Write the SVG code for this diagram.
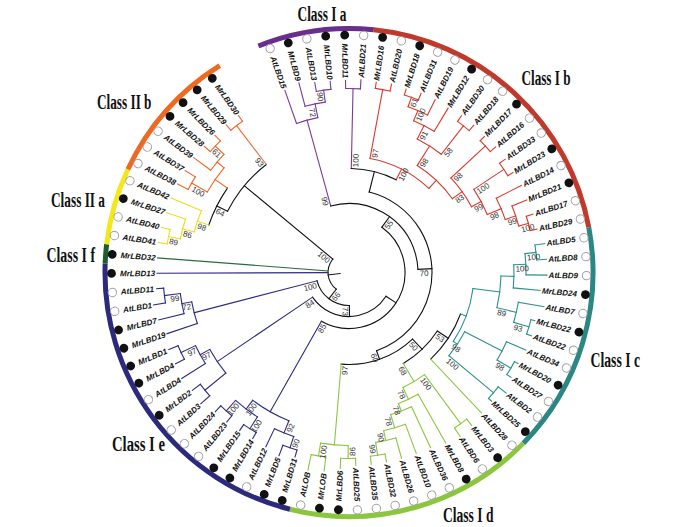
<svg xmlns="http://www.w3.org/2000/svg" width="700" height="527" viewBox="0 0 700 527">
<style>
.c line,.c circle{fill:none;stroke-width:1.1;stroke-linecap:square}
.k{stroke:#111}.p{stroke:#7b3a96}.r{stroke:#d8392e}.t{stroke:#2a9090}.g{stroke:#8cc63f}.n{stroke:#2e2b82}.dg{stroke:#2a6b3a}.y{stroke:#ece01c}.o{stroke:#f2672a}
.ring circle{fill:none;stroke-width:5}
.lf text{font-family:"Liberation Sans",Arial,sans-serif;font-size:8px;font-weight:bold;font-style:italic;fill:#111}
.R{text-anchor:end}
.f{fill:#111}
.e{fill:#fff;stroke:#a0a0a0;stroke-width:1}
.bs text{font-family:"Liberation Sans",Arial,sans-serif;font-size:8px;fill:#333}
.bs .E{text-anchor:end}
.cl text{font-family:"Liberation Serif","Times New Roman",serif;font-weight:bold;font-size:20px;fill:#111}
</style>
<rect width="700" height="527" fill="#fff"/>
<g id="ring" class="ring" transform="translate(349 272.5)">
<circle r="244" pathLength="360" stroke-dasharray="27.64 400" transform="rotate(-111.8)" stroke="#6b2d8c"/>
<circle r="244" pathLength="360" stroke-dasharray="73.46 400" transform="rotate(-84.16)" stroke="#c0392b"/>
<circle r="244" pathLength="360" stroke-dasharray="55.07 400" transform="rotate(-10.7)" stroke="#2a8784"/>
<circle r="244" pathLength="360" stroke-dasharray="59.63 400" transform="rotate(44.37)" stroke="#8cc63f"/>
<circle r="244" pathLength="360" stroke-dasharray="78.07 400" transform="rotate(104)" stroke="#2d2a7e"/>
<circle r="244" pathLength="360" stroke-dasharray="4.59 400" transform="rotate(182.07)" stroke="#1f5c2e"/>
<circle r="244" pathLength="360" stroke-dasharray="18.34 400" transform="rotate(186.66)" stroke="#f3e819"/>
<circle r="244" pathLength="360" stroke-dasharray="33 400" transform="rotate(205)" stroke="#ee6a23"/>
</g>
<g id="connectors" class="c" transform="translate(349 272.5)">
<line class="p" x1="158" x2="193" transform="rotate(-109.4)"/>
<line class="p" x1="172" x2="196" transform="rotate(-104.81)"/>
<line class="p" x1="184" x2="193" transform="rotate(-100.22)"/>
<line class="p" x1="184" x2="192" transform="rotate(-95.63)"/>
<line class="p" x1="184" x2="192" transform="rotate(-91.04)"/>
<line class="p" x1="184" x2="193" transform="rotate(-86.45)"/>
<circle class="p" r="184" pathLength="360" stroke-dasharray="4.59 400" transform="rotate(-100.22)"/>
<line class="p" x1="172" x2="184" transform="rotate(-97.925)"/>
<circle class="p" r="172" pathLength="360" stroke-dasharray="6.885 400" transform="rotate(-104.81)"/>
<line class="p" x1="158" x2="172" transform="rotate(-101.37)"/>
<circle class="p" r="158" pathLength="360" stroke-dasharray="8.03 400" transform="rotate(-109.4)"/>
<line class="p" x1="69" x2="158" transform="rotate(-105.385)"/>
<circle class="p" r="184" pathLength="360" stroke-dasharray="4.59 400" transform="rotate(-91.04)"/>
<line class="p" x1="104" x2="184" transform="rotate(-88.745)"/>
<line class="r" x1="186" x2="192" transform="rotate(-81.86)"/>
<line class="r" x1="186" x2="193" transform="rotate(-77.27)"/>
<line class="r" x1="186" x2="192" transform="rotate(-72.68)"/>
<line class="r" x1="186" x2="193" transform="rotate(-68.09)"/>
<line class="r" x1="176" x2="193" transform="rotate(-63.5)"/>
<line class="r" x1="165" x2="192" transform="rotate(-58.91)"/>
<line class="r" x1="186" x2="193" transform="rotate(-54.32)"/>
<line class="r" x1="186" x2="193" transform="rotate(-49.73)"/>
<line class="r" x1="186" x2="192" transform="rotate(-45.14)"/>
<line class="r" x1="186" x2="193" transform="rotate(-40.55)"/>
<line class="r" x1="186" x2="193" transform="rotate(-35.96)"/>
<line class="r" x1="186" x2="192" transform="rotate(-31.37)"/>
<line class="r" x1="165" x2="193" transform="rotate(-26.78)"/>
<line class="r" x1="176" x2="192" transform="rotate(-22.19)"/>
<line class="r" x1="186" x2="193" transform="rotate(-17.6)"/>
<line class="r" x1="186" x2="193" transform="rotate(-13.01)"/>
<circle class="r" r="186" pathLength="360" stroke-dasharray="4.59 400" transform="rotate(-81.86)"/>
<line class="r" x1="116" x2="186" transform="rotate(-79.565)"/>
<circle class="r" r="186" pathLength="360" stroke-dasharray="4.59 400" transform="rotate(-72.68)"/>
<line class="r" x1="176" x2="186" transform="rotate(-70.385)"/>
<circle class="r" r="176" pathLength="360" stroke-dasharray="6.885 400" transform="rotate(-70.385)"/>
<line class="r" x1="165" x2="176" transform="rotate(-66.94)"/>
<circle class="r" r="165" pathLength="360" stroke-dasharray="8.03 400" transform="rotate(-66.94)"/>
<line class="r" x1="150" x2="165" transform="rotate(-62.93)"/>
<circle class="r" r="186" pathLength="360" stroke-dasharray="4.59 400" transform="rotate(-54.32)"/>
<line class="r" x1="150" x2="186" transform="rotate(-52.025)"/>
<circle class="r" r="150" pathLength="360" stroke-dasharray="10.905 400" transform="rotate(-62.93)"/>
<line class="r" x1="127" x2="150" transform="rotate(-57.48)"/>
<circle class="r" r="186" pathLength="360" stroke-dasharray="4.59 400" transform="rotate(-45.14)"/>
<line class="r" x1="139" x2="186" transform="rotate(-42.845)"/>
<circle class="r" r="186" pathLength="360" stroke-dasharray="4.59 400" transform="rotate(-35.96)"/>
<line class="r" x1="150" x2="186" transform="rotate(-33.665)"/>
<circle class="r" r="186" pathLength="360" stroke-dasharray="4.59 400" transform="rotate(-17.6)"/>
<line class="r" x1="176" x2="186" transform="rotate(-15.305)"/>
<circle class="r" r="176" pathLength="360" stroke-dasharray="6.885 400" transform="rotate(-22.19)"/>
<line class="r" x1="165" x2="176" transform="rotate(-18.75)"/>
<circle class="r" r="165" pathLength="360" stroke-dasharray="8.03 400" transform="rotate(-26.78)"/>
<line class="r" x1="150" x2="165" transform="rotate(-22.765)"/>
<circle class="r" r="150" pathLength="360" stroke-dasharray="10.9 400" transform="rotate(-33.665)"/>
<line class="r" x1="139" x2="150" transform="rotate(-28.215)"/>
<circle class="r" r="139" pathLength="360" stroke-dasharray="14.63 400" transform="rotate(-42.845)"/>
<line class="r" x1="127" x2="139" transform="rotate(-35.53)"/>
<circle class="r" r="127" pathLength="360" stroke-dasharray="21.975 400" transform="rotate(-57.48)"/>
<line class="r" x1="116" x2="127" transform="rotate(-46.505)"/>
<circle class="r" r="116" pathLength="360" stroke-dasharray="33.06 400" transform="rotate(-79.565)"/>
<line class="r" x1="104" x2="116" transform="rotate(-63.035)"/>
<circle class="k" r="104" pathLength="360" stroke-dasharray="25.71 400" transform="rotate(-88.745)"/>
<line class="k" x1="83" x2="104" transform="rotate(-75.89)"/>
<circle class="k" r="83" pathLength="360" stroke-dasharray="146.5 400" transform="rotate(-75.89)"/>
<line class="k" x1="69" x2="83" transform="rotate(-2.64)"/>
<circle class="k" r="69" pathLength="360" stroke-dasharray="102.745 400" transform="rotate(-105.385)"/>
<line class="k" x1="56" x2="69" transform="rotate(-54.01)"/>
<circle class="k" r="56" pathLength="360" stroke-dasharray="173.54 400" transform="rotate(-54.01)"/>
<line class="k" x1="44" x2="56" transform="rotate(32.76)"/>
<circle class="k" r="44" pathLength="360" stroke-dasharray="113.16 400" transform="rotate(32.76)"/>
<line class="k" x1="33" x2="44" transform="rotate(89.34)"/>
<circle class="k" r="33" pathLength="360" stroke-dasharray="76.09 400" transform="rotate(89.34)"/>
<line class="k" x1="21" x2="33" transform="rotate(127.385)"/>
<circle class="k" r="21" pathLength="360" stroke-dasharray="92.26 400" transform="rotate(127.385)"/>
<line class="k" x1="9" x2="21" transform="rotate(173.5)"/>
<circle class="k" r="92" pathLength="360" stroke-dasharray="48.485 400" transform="rotate(46.37)"/>
<line class="k" x1="83" x2="92" transform="rotate(70.61)"/>
<circle class="k" r="106" pathLength="360" stroke-dasharray="25.675 400" transform="rotate(33.535)"/>
<line class="k" x1="92" x2="106" transform="rotate(46.37)"/>
<circle class="k" r="119" pathLength="360" stroke-dasharray="26.25 400" transform="rotate(20.41)"/>
<line class="k" x1="106" x2="119" transform="rotate(33.535)"/>
<circle class="k" r="136" pathLength="360" stroke-dasharray="25.82 400" transform="rotate(206.735)"/>
<line class="k" x1="21" x2="136" transform="rotate(219.645)"/>
<circle class="k" r="148" pathLength="360" stroke-dasharray="16.07 400" transform="rotate(198.7)"/>
<line class="k" x1="136" x2="148" transform="rotate(206.735)"/>
<circle class="t" r="125" pathLength="360" stroke-dasharray="26.108 400" transform="rotate(7.356)"/>
<line class="t" x1="119" x2="125" transform="rotate(20.41)"/>
<circle class="t" r="130" pathLength="360" stroke-dasharray="12.6225 400" transform="rotate(27.1525)"/>
<line class="t" x1="125" x2="130" transform="rotate(33.464)"/>
<circle class="t" r="152" pathLength="360" stroke-dasharray="12.044 400" transform="rotate(1.334)"/>
<line class="t" x1="125" x2="152" transform="rotate(7.356)"/>
<circle class="t" r="165" pathLength="360" stroke-dasharray="8.03 400" transform="rotate(-2.6825)"/>
<line class="t" x1="152" x2="165" transform="rotate(1.334)"/>
<circle class="t" r="177" pathLength="360" stroke-dasharray="6.885 400" transform="rotate(-6.125)"/>
<line class="t" x1="165" x2="177" transform="rotate(-2.6825)"/>
<circle class="t" r="188" pathLength="360" stroke-dasharray="4.59 400" transform="rotate(-8.42)"/>
<line class="t" x1="177" x2="188" transform="rotate(-6.125)"/>
<circle class="t" r="172" pathLength="360" stroke-dasharray="6.885 400" transform="rotate(9.94)"/>
<line class="t" x1="152" x2="172" transform="rotate(13.378)"/>
<circle class="t" r="188" pathLength="360" stroke-dasharray="4.59 400" transform="rotate(14.53)"/>
<line class="t" x1="172" x2="188" transform="rotate(16.825)"/>
<circle class="t" r="172" pathLength="360" stroke-dasharray="6.885 400" transform="rotate(23.71)"/>
<line class="t" x1="130" x2="172" transform="rotate(27.1525)"/>
<circle class="t" r="188" pathLength="360" stroke-dasharray="4.59 400" transform="rotate(28.3)"/>
<line class="t" x1="172" x2="188" transform="rotate(30.595)"/>
<circle class="t" r="188" pathLength="360" stroke-dasharray="4.59 400" transform="rotate(37.48)"/>
<line class="t" x1="130" x2="188" transform="rotate(39.775)"/>
<line class="t" x1="188" x2="198" transform="rotate(-8.42)"/>
<line class="t" x1="188" x2="198" transform="rotate(-3.83)"/>
<line class="t" x1="177" x2="198" transform="rotate(0.76)"/>
<line class="t" x1="165" x2="192" transform="rotate(5.35)"/>
<line class="t" x1="172" x2="198" transform="rotate(9.94)"/>
<line class="t" x1="188" x2="192" transform="rotate(14.53)"/>
<line class="t" x1="188" x2="193" transform="rotate(19.12)"/>
<line class="t" x1="172" x2="193" transform="rotate(23.71)"/>
<line class="t" x1="188" x2="192" transform="rotate(28.3)"/>
<line class="t" x1="188" x2="193" transform="rotate(32.89)"/>
<line class="t" x1="188" x2="198" transform="rotate(37.48)"/>
<line class="t" x1="188" x2="192" transform="rotate(42.07)"/>
<line class="g" x1="119" x2="193" transform="rotate(46.66)"/>
<line class="g" x1="188" x2="196" transform="rotate(51.25)"/>
<line class="g" x1="188" x2="198" transform="rotate(55.84)"/>
<line class="g" x1="140" x2="196" transform="rotate(60.43)"/>
<line class="g" x1="148" x2="193" transform="rotate(65.02)"/>
<line class="g" x1="162" x2="193" transform="rotate(69.61)"/>
<line class="g" x1="172" x2="193" transform="rotate(74.2)"/>
<line class="g" x1="185" x2="193" transform="rotate(78.79)"/>
<line class="g" x1="185" x2="193" transform="rotate(83.38)"/>
<line class="g" x1="186" x2="193" transform="rotate(87.97)"/>
<line class="g" x1="186" x2="196" transform="rotate(92.56)"/>
<line class="g" x1="186" x2="200" transform="rotate(97.15)"/>
<line class="g" x1="186" x2="202" transform="rotate(101.74)"/>
<circle class="g" r="127" pathLength="360" stroke-dasharray="11.335 400" transform="rotate(53.545)"/>
<line class="g" x1="106" x2="127" transform="rotate(59.21)"/>
<circle class="g" r="188" pathLength="360" stroke-dasharray="4.59 400" transform="rotate(51.25)"/>
<line class="g" x1="127" x2="188" transform="rotate(53.545)"/>
<circle class="g" r="140" pathLength="360" stroke-dasharray="8.895 400" transform="rotate(60.43)"/>
<line class="g" x1="127" x2="140" transform="rotate(64.88)"/>
<circle class="g" r="148" pathLength="360" stroke-dasharray="8.605 400" transform="rotate(65.02)"/>
<line class="g" x1="140" x2="148" transform="rotate(69.325)"/>
<circle class="g" r="162" pathLength="360" stroke-dasharray="8.03 400" transform="rotate(69.61)"/>
<line class="g" x1="148" x2="162" transform="rotate(73.63)"/>
<circle class="g" r="172" pathLength="360" stroke-dasharray="6.885 400" transform="rotate(74.2)"/>
<line class="g" x1="162" x2="172" transform="rotate(77.64)"/>
<circle class="g" r="185" pathLength="360" stroke-dasharray="4.59 400" transform="rotate(78.79)"/>
<line class="g" x1="172" x2="185" transform="rotate(81.085)"/>
<circle class="g" r="173" pathLength="360" stroke-dasharray="9.18 400" transform="rotate(90.265)"/>
<line class="g" x1="92" x2="173" transform="rotate(94.855)"/>
<circle class="g" r="186" pathLength="360" stroke-dasharray="4.59 400" transform="rotate(87.97)"/>
<line class="g" x1="173" x2="186" transform="rotate(90.265)"/>
<circle class="g" r="186" pathLength="360" stroke-dasharray="4.59 400" transform="rotate(97.15)"/>
<line class="g" x1="173" x2="186" transform="rotate(99.445)"/>
<line class="n" x1="185" x2="192" transform="rotate(106.33)"/>
<line class="n" x1="185" x2="196" transform="rotate(110.92)"/>
<line class="n" x1="173" x2="193" transform="rotate(115.51)"/>
<line class="n" x1="185" x2="192" transform="rotate(120.1)"/>
<line class="n" x1="185" x2="192" transform="rotate(124.69)"/>
<line class="n" x1="185" x2="193" transform="rotate(129.28)"/>
<line class="n" x1="185" x2="193" transform="rotate(133.87)"/>
<line class="n" x1="186" x2="198" transform="rotate(138.46)"/>
<line class="n" x1="186" x2="196" transform="rotate(143.05)"/>
<line class="n" x1="170" x2="198" transform="rotate(147.64)"/>
<line class="n" x1="186" x2="196" transform="rotate(152.23)"/>
<line class="n" x1="186" x2="196" transform="rotate(156.82)"/>
<line class="n" x1="160" x2="192" transform="rotate(161.41)"/>
<line class="n" x1="170" x2="196" transform="rotate(166)"/>
<line class="n" x1="186" x2="198" transform="rotate(170.59)"/>
<line class="n" x1="186" x2="193" transform="rotate(175.18)"/>
<line class="n" x1="21" x2="192" transform="rotate(179.77)"/>
<circle class="n" r="160" pathLength="360" stroke-dasharray="14.915 400" transform="rotate(112.07)"/>
<line class="n" x1="56" x2="160" transform="rotate(119.53)"/>
<circle class="n" r="173" pathLength="360" stroke-dasharray="6.885 400" transform="rotate(108.625)"/>
<line class="n" x1="160" x2="173" transform="rotate(112.07)"/>
<circle class="n" r="185" pathLength="360" stroke-dasharray="4.59 400" transform="rotate(106.33)"/>
<line class="n" x1="173" x2="185" transform="rotate(108.625)"/>
<circle class="n" r="171" pathLength="360" stroke-dasharray="9.18 400" transform="rotate(122.395)"/>
<line class="n" x1="160" x2="171" transform="rotate(126.985)"/>
<circle class="n" r="185" pathLength="360" stroke-dasharray="4.59 400" transform="rotate(120.1)"/>
<line class="n" x1="171" x2="185" transform="rotate(122.395)"/>
<circle class="n" r="185" pathLength="360" stroke-dasharray="4.59 400" transform="rotate(129.28)"/>
<line class="n" x1="171" x2="185" transform="rotate(131.575)"/>
<circle class="n" r="159" pathLength="360" stroke-dasharray="10.325 400" transform="rotate(140.755)"/>
<line class="n" x1="44" x2="159" transform="rotate(145.92)"/>
<circle class="n" r="186" pathLength="360" stroke-dasharray="4.59 400" transform="rotate(138.46)"/>
<line class="n" x1="159" x2="186" transform="rotate(140.755)"/>
<circle class="n" r="170" pathLength="360" stroke-dasharray="6.885 400" transform="rotate(147.64)"/>
<line class="n" x1="159" x2="170" transform="rotate(151.08)"/>
<circle class="n" r="186" pathLength="360" stroke-dasharray="4.59 400" transform="rotate(152.23)"/>
<line class="n" x1="170" x2="186" transform="rotate(154.525)"/>
<circle class="n" r="160" pathLength="360" stroke-dasharray="8.03 400" transform="rotate(161.41)"/>
<line class="n" x1="33" x2="160" transform="rotate(165.43)"/>
<circle class="n" r="170" pathLength="360" stroke-dasharray="6.885 400" transform="rotate(166)"/>
<line class="n" x1="160" x2="170" transform="rotate(169.44)"/>
<circle class="n" r="186" pathLength="360" stroke-dasharray="4.59 400" transform="rotate(170.59)"/>
<line class="n" x1="170" x2="186" transform="rotate(172.885)"/>
<line class="dg" x1="21" x2="192" transform="rotate(184.36)"/>
<line class="y" x1="184" x2="193" transform="rotate(188.95)"/>
<line class="y" x1="184" x2="193" transform="rotate(193.54)"/>
<line class="y" x1="172" x2="192" transform="rotate(198.13)"/>
<line class="y" x1="160" x2="193" transform="rotate(202.72)"/>
<circle class="y" r="160" pathLength="360" stroke-dasharray="8.0325 400" transform="rotate(194.6875)"/>
<line class="y" x1="148" x2="160" transform="rotate(198.7)"/>
<circle class="y" r="172" pathLength="360" stroke-dasharray="6.885 400" transform="rotate(191.245)"/>
<line class="y" x1="160" x2="172" transform="rotate(194.6875)"/>
<circle class="y" r="184" pathLength="360" stroke-dasharray="4.59 400" transform="rotate(188.95)"/>
<line class="y" x1="172" x2="184" transform="rotate(191.245)"/>
<line class="o" x1="181" x2="193" transform="rotate(207.31)"/>
<line class="o" x1="181" x2="193" transform="rotate(211.9)"/>
<line class="o" x1="172" x2="193" transform="rotate(216.49)"/>
<line class="o" x1="184" x2="192" transform="rotate(221.08)"/>
<line class="o" x1="184" x2="192" transform="rotate(225.67)"/>
<line class="o" x1="185" x2="192" transform="rotate(230.26)"/>
<line class="o" x1="185" x2="192" transform="rotate(234.85)"/>
<circle class="o" r="163" pathLength="360" stroke-dasharray="10.325 400" transform="rotate(209.605)"/>
<line class="o" x1="148" x2="163" transform="rotate(214.77)"/>
<circle class="o" r="181" pathLength="360" stroke-dasharray="4.59 400" transform="rotate(207.31)"/>
<line class="o" x1="163" x2="181" transform="rotate(209.605)"/>
<circle class="o" r="172" pathLength="360" stroke-dasharray="6.885 400" transform="rotate(216.49)"/>
<line class="o" x1="163" x2="172" transform="rotate(219.93)"/>
<circle class="o" r="184" pathLength="360" stroke-dasharray="4.59 400" transform="rotate(221.08)"/>
<line class="o" x1="172" x2="184" transform="rotate(223.375)"/>
<circle class="o" r="185" pathLength="360" stroke-dasharray="4.59 400" transform="rotate(230.26)"/>
<line class="o" x1="136" x2="185" transform="rotate(232.555)"/>
</g>
<g id="bootstrap" class="bs" transform="translate(349 272.5)">
<text class="E" transform="rotate(82.075)" x="-173.5" y="7">90</text>
<text class="E" transform="rotate(78.63)" x="-159.5" y="7">72</text>
<text class="E" transform="rotate(74.615)" x="-70.5" y="7">99</text>
<text transform="rotate(-88.745)" x="105.5" y="7">100</text>
<text transform="rotate(-79.565)" x="117.5" y="7">97</text>
<text transform="rotate(-63.035)" x="105.5" y="7">100</text>
<text transform="rotate(-70.385)" x="177.5" y="7">61</text>
<text transform="rotate(-66.94)" x="166.5" y="7">100</text>
<text transform="rotate(-62.93)" x="151.5" y="7">91</text>
<text transform="rotate(-52.025)" x="151.5" y="7">58</text>
<text transform="rotate(-57.48)" x="128.5" y="7">98</text>
<text transform="rotate(-42.845)" x="140.5" y="7">98</text>
<text transform="rotate(-33.665)" x="151.5" y="7">100</text>
<text transform="rotate(-28.215)" x="140.5" y="7">99</text>
<text transform="rotate(-35.53)" x="128.5" y="7">83</text>
<text transform="rotate(-22.765)" x="151.5" y="7">98</text>
<text transform="rotate(-18.75)" x="166.5" y="7">99</text>
<text transform="rotate(-15.305)" x="177.5" y="7">100</text>
<text transform="rotate(-6.125)" x="178.5" y="7">100</text>
<text transform="rotate(-2.6825)" x="166.5" y="7">100</text>
<text transform="rotate(16.825)" x="173.5" y="7">93</text>
<text transform="rotate(13.378)" x="153.5" y="7">89</text>
<text transform="rotate(30.595)" x="173.5" y="7">98</text>
<text transform="rotate(39.775)" x="131.5" y="7">100</text>
<text transform="rotate(33.464)" x="126.5" y="7">98</text>
<text transform="rotate(33.535)" x="107.5" y="7">53</text>
<text transform="rotate(46.37)" x="93.5" y="7">50</text>
<text transform="rotate(70.61)" x="84.5" y="7">60</text>
<text transform="rotate(-2.64)" x="70.5" y="7">70</text>
<text transform="rotate(-54.01)" x="57.5" y="7">55</text>
<text transform="rotate(89.34)" x="34.5" y="7">73</text>
<text transform="rotate(59.21)" x="107.5" y="7">68</text>
<text transform="rotate(53.545)" x="128.5" y="7">100</text>
<text transform="rotate(64.88)" x="128.5" y="7">78</text>
<text transform="rotate(69.325)" x="141.5" y="7">78</text>
<text transform="rotate(73.63)" x="149.5" y="7">78</text>
<text transform="rotate(77.64)" x="163.5" y="7">90</text>
<text transform="rotate(81.085)" x="173.5" y="7">99</text>
<text class="E" transform="rotate(-85.145)" x="-93.5" y="7">97</text>
<text class="E" transform="rotate(-89.735)" x="-174.5" y="7">86</text>
<text class="E" transform="rotate(-80.555)" x="-174.5" y="7">100</text>
<text class="E" transform="rotate(-52.615)" x="-22.5" y="7">66</text>
<text class="E" transform="rotate(-14.57)" x="-34.5" y="7">100</text>
<text class="E" transform="rotate(-34.08)" x="-45.5" y="7">84</text>
<text class="E" transform="rotate(-60.47)" x="-57.5" y="7">85</text>
<text class="E" transform="rotate(-7.115)" x="-171.5" y="7">99</text>
<text class="E" transform="rotate(-10.56)" x="-161.5" y="7">72</text>
<text class="E" transform="rotate(-25.475)" x="-171.5" y="7">97</text>
<text class="E" transform="rotate(-28.92)" x="-160.5" y="7">97</text>
<text class="E" transform="rotate(-71.375)" x="-174.5" y="7">90</text>
<text class="E" transform="rotate(-67.93)" x="-161.5" y="7">92</text>
<text class="E" transform="rotate(-57.605)" x="-172.5" y="7">100</text>
<text class="E" transform="rotate(-48.425)" x="-172.5" y="7">100</text>
<text class="E" transform="rotate(-53.015)" x="-161.5" y="7">100</text>
<text class="E" transform="rotate(39.645)" x="-22.5" y="7">100</text>
<text class="E" transform="rotate(26.735)" x="-137.5" y="7">64</text>
<text class="E" transform="rotate(52.555)" x="-137.5" y="7">93</text>
<text class="E" transform="rotate(18.7)" x="-149.5" y="7">98</text>
<text class="E" transform="rotate(14.6875)" x="-161.5" y="7">86</text>
<text class="E" transform="rotate(11.245)" x="-173.5" y="7">89</text>
<text class="E" transform="rotate(29.605)" x="-164.5" y="7">100</text>
<text class="E" transform="rotate(43.375)" x="-173.5" y="7">61</text>
</g>
<g id="leaves" class="lf" transform="translate(349 272.5)">
<g id="AtLBD15" transform="rotate(70.6)"><circle class="e" cx="-237.5" r="4.2"/><text x="-229" y="2.8">AtLBD15</text></g>
<g id="MrLBD9" transform="rotate(75.19)"><circle class="f" cx="-237.5" r="4.4"/><text x="-229" y="2.8">MrLBD9</text></g>
<g id="AtLBD13" transform="rotate(79.78)"><circle class="e" cx="-237.5" r="4.2"/><text x="-229" y="2.8">AtLBD13</text></g>
<g id="MrLBD10" transform="rotate(84.37)"><circle class="f" cx="-237.5" r="4.4"/><text x="-229" y="2.8">MrLBD10</text></g>
<g id="MrLBD11" transform="rotate(88.96)"><circle class="f" cx="-237.5" r="4.4"/><text x="-229" y="2.8">MrLBD11</text></g>
<g id="AtLBD21" transform="rotate(-86.45)"><circle class="e" cx="237.5" r="4.2"/><text class="R" x="229" y="2.8">AtLBD21</text></g>
<g id="MrLBD16" transform="rotate(-81.86)"><circle class="f" cx="237.5" r="4.4"/><text class="R" x="229" y="2.8">MrLBD16</text></g>
<g id="AtLBD20" transform="rotate(-77.27)"><circle class="e" cx="237.5" r="4.2"/><text class="R" x="229" y="2.8">AtLBD20</text></g>
<g id="MrLBD18" transform="rotate(-72.68)"><circle class="f" cx="237.5" r="4.4"/><text class="R" x="229" y="2.8">MrLBD18</text></g>
<g id="AtLBD31" transform="rotate(-68.09)"><circle class="e" cx="237.5" r="4.2"/><text class="R" x="229" y="2.8">AtLBD31</text></g>
<g id="AtLBD19" transform="rotate(-63.5)"><circle class="e" cx="237.5" r="4.2"/><text class="R" x="229" y="2.8">AtLBD19</text></g>
<g id="MrLBD12" transform="rotate(-58.91)"><circle class="f" cx="237.5" r="4.4"/><text class="R" x="229" y="2.8">MrLBD12</text></g>
<g id="AtLBD30" transform="rotate(-54.32)"><circle class="e" cx="237.5" r="4.2"/><text class="R" x="229" y="2.8">AtLBD30</text></g>
<g id="AtLBD18" transform="rotate(-49.73)"><circle class="e" cx="237.5" r="4.2"/><text class="R" x="229" y="2.8">AtLBD18</text></g>
<g id="MrLBD17" transform="rotate(-45.14)"><circle class="f" cx="237.5" r="4.4"/><text class="R" x="229" y="2.8">MrLBD17</text></g>
<g id="AtLBD16" transform="rotate(-40.55)"><circle class="e" cx="237.5" r="4.2"/><text class="R" x="229" y="2.8">AtLBD16</text></g>
<g id="AtLBD33" transform="rotate(-35.96)"><circle class="e" cx="237.5" r="4.2"/><text class="R" x="229" y="2.8">AtLBD33</text></g>
<g id="MrLBD23" transform="rotate(-31.37)"><circle class="f" cx="237.5" r="4.4"/><text class="R" x="229" y="2.8">MrLBD23</text></g>
<g id="AtLBD14" transform="rotate(-26.78)"><circle class="e" cx="237.5" r="4.2"/><text class="R" x="229" y="2.8">AtLBD14</text></g>
<g id="MrLBD21" transform="rotate(-22.19)"><circle class="f" cx="237.5" r="4.4"/><text class="R" x="229" y="2.8">MrLBD21</text></g>
<g id="AtLBD17" transform="rotate(-17.6)"><circle class="e" cx="237.5" r="4.2"/><text class="R" x="229" y="2.8">AtLBD17</text></g>
<g id="AtLBD29" transform="rotate(-13.01)"><circle class="e" cx="237.5" r="4.2"/><text class="R" x="229" y="2.8">AtLBD29</text></g>
<g id="AtLBD5" transform="rotate(-8.42)"><circle class="e" cx="237.5" r="4.2"/><text class="R" x="229" y="2.8">AtLBD5</text></g>
<g id="AtLBD8" transform="rotate(-3.83)"><circle class="e" cx="237.5" r="4.2"/><text class="R" x="229" y="2.8">AtLBD8</text></g>
<g id="AtLBD9" transform="rotate(0.76)"><circle class="e" cx="237.5" r="4.2"/><text class="R" x="229" y="2.8">AtLBD9</text></g>
<g id="MrLBD24" transform="rotate(5.35)"><circle class="f" cx="237.5" r="4.4"/><text class="R" x="229" y="2.8">MrLBD24</text></g>
<g id="AtLBD7" transform="rotate(9.94)"><circle class="e" cx="237.5" r="4.2"/><text class="R" x="229" y="2.8">AtLBD7</text></g>
<g id="MrLBD22" transform="rotate(14.53)"><circle class="f" cx="237.5" r="4.4"/><text class="R" x="229" y="2.8">MrLBD22</text></g>
<g id="AtLBD22" transform="rotate(19.12)"><circle class="e" cx="237.5" r="4.2"/><text class="R" x="229" y="2.8">AtLBD22</text></g>
<g id="AtLBD34" transform="rotate(23.71)"><circle class="e" cx="237.5" r="4.2"/><text class="R" x="229" y="2.8">AtLBD34</text></g>
<g id="MrLBD20" transform="rotate(28.3)"><circle class="f" cx="237.5" r="4.4"/><text class="R" x="229" y="2.8">MrLBD20</text></g>
<g id="AtLBD27" transform="rotate(32.89)"><circle class="e" cx="237.5" r="4.2"/><text class="R" x="229" y="2.8">AtLBD27</text></g>
<g id="AtLBD2" transform="rotate(37.48)"><circle class="e" cx="237.5" r="4.2"/><text class="R" x="229" y="2.8">AtLBD2</text></g>
<g id="MrLBD25" transform="rotate(42.07)"><circle class="f" cx="237.5" r="4.4"/><text class="R" x="229" y="2.8">MrLBD25</text></g>
<g id="AtLBD28" transform="rotate(46.66)"><circle class="e" cx="237.5" r="4.2"/><text class="R" x="229" y="2.8">AtLBD28</text></g>
<g id="MrLBD3" transform="rotate(51.25)"><circle class="f" cx="237.5" r="4.4"/><text class="R" x="229" y="2.8">MrLBD3</text></g>
<g id="AtLBD6" transform="rotate(55.84)"><circle class="e" cx="237.5" r="4.2"/><text class="R" x="229" y="2.8">AtLBD6</text></g>
<g id="MrLBD8" transform="rotate(60.43)"><circle class="f" cx="237.5" r="4.4"/><text class="R" x="229" y="2.8">MrLBD8</text></g>
<g id="AtLBD36" transform="rotate(65.02)"><circle class="e" cx="237.5" r="4.2"/><text class="R" x="229" y="2.8">AtLBD36</text></g>
<g id="AtLBD10" transform="rotate(69.61)"><circle class="e" cx="237.5" r="4.2"/><text class="R" x="229" y="2.8">AtLBD10</text></g>
<g id="AtLBD26" transform="rotate(74.2)"><circle class="e" cx="237.5" r="4.2"/><text class="R" x="229" y="2.8">AtLBD26</text></g>
<g id="AtLBD32" transform="rotate(78.79)"><circle class="e" cx="237.5" r="4.2"/><text class="R" x="229" y="2.8">AtLBD32</text></g>
<g id="AtLBD35" transform="rotate(83.38)"><circle class="e" cx="237.5" r="4.2"/><text class="R" x="229" y="2.8">AtLBD35</text></g>
<g id="AtLBD25" transform="rotate(87.97)"><circle class="e" cx="237.5" r="4.2"/><text class="R" x="229" y="2.8">AtLBD25</text></g>
<g id="MrLBD6" transform="rotate(-87.44)"><circle class="f" cx="-237.5" r="4.4"/><text x="-229" y="2.8">MrLBD6</text></g>
<g id="MrLOB" transform="rotate(-82.85)"><circle class="f" cx="-237.5" r="4.4"/><text x="-229" y="2.8">MrLOB</text></g>
<g id="AtLOB" transform="rotate(-78.26)"><circle class="e" cx="-237.5" r="4.2"/><text x="-229" y="2.8">AtLOB</text></g>
<g id="MrLBD31" transform="rotate(-73.67)"><circle class="f" cx="-237.5" r="4.4"/><text x="-229" y="2.8">MrLBD31</text></g>
<g id="MrLBD5" transform="rotate(-69.08)"><circle class="f" cx="-237.5" r="4.4"/><text x="-229" y="2.8">MrLBD5</text></g>
<g id="AtLBD12" transform="rotate(-64.49)"><circle class="e" cx="-237.5" r="4.2"/><text x="-229" y="2.8">AtLBD12</text></g>
<g id="MrLBD14" transform="rotate(-59.9)"><circle class="f" cx="-237.5" r="4.4"/><text x="-229" y="2.8">MrLBD14</text></g>
<g id="MrLBD15" transform="rotate(-55.31)"><circle class="f" cx="-237.5" r="4.4"/><text x="-229" y="2.8">MrLBD15</text></g>
<g id="AtLBD23" transform="rotate(-50.72)"><circle class="e" cx="-237.5" r="4.2"/><text x="-229" y="2.8">AtLBD23</text></g>
<g id="AtLBD24" transform="rotate(-46.13)"><circle class="e" cx="-237.5" r="4.2"/><text x="-229" y="2.8">AtLBD24</text></g>
<g id="AtLBD3" transform="rotate(-41.54)"><circle class="e" cx="-237.5" r="4.2"/><text x="-229" y="2.8">AtLBD3</text></g>
<g id="MrLBD2" transform="rotate(-36.95)"><circle class="f" cx="-237.5" r="4.4"/><text x="-229" y="2.8">MrLBD2</text></g>
<g id="AtLBD4" transform="rotate(-32.36)"><circle class="e" cx="-237.5" r="4.2"/><text x="-229" y="2.8">AtLBD4</text></g>
<g id="MrLBD4" transform="rotate(-27.77)"><circle class="f" cx="-237.5" r="4.4"/><text x="-229" y="2.8">MrLBD4</text></g>
<g id="MrLBD1" transform="rotate(-23.18)"><circle class="f" cx="-237.5" r="4.4"/><text x="-229" y="2.8">MrLBD1</text></g>
<g id="MrLBD19" transform="rotate(-18.59)"><circle class="f" cx="-237.5" r="4.4"/><text x="-229" y="2.8">MrLBD19</text></g>
<g id="MrLBD7" transform="rotate(-14)"><circle class="f" cx="-237.5" r="4.4"/><text x="-229" y="2.8">MrLBD7</text></g>
<g id="AtLBD1" transform="rotate(-9.41)"><circle class="e" cx="-237.5" r="4.2"/><text x="-229" y="2.8">AtLBD1</text></g>
<g id="AtLBD11" transform="rotate(-4.82)"><circle class="e" cx="-237.5" r="4.2"/><text x="-229" y="2.8">AtLBD11</text></g>
<g id="MrLBD13" transform="rotate(-0.23)"><circle class="f" cx="-237.5" r="4.4"/><text x="-229" y="2.8">MrLBD13</text></g>
<g id="MrLBD32" transform="rotate(4.36)"><circle class="f" cx="-237.5" r="4.4"/><text x="-229" y="2.8">MrLBD32</text></g>
<g id="AtLBD41" transform="rotate(8.95)"><circle class="e" cx="-237.5" r="4.2"/><text x="-229" y="2.8">AtLBD41</text></g>
<g id="AtLBD40" transform="rotate(13.54)"><circle class="e" cx="-237.5" r="4.2"/><text x="-229" y="2.8">AtLBD40</text></g>
<g id="MrLBD27" transform="rotate(18.13)"><circle class="f" cx="-237.5" r="4.4"/><text x="-229" y="2.8">MrLBD27</text></g>
<g id="AtLBD42" transform="rotate(22.72)"><circle class="e" cx="-237.5" r="4.2"/><text x="-229" y="2.8">AtLBD42</text></g>
<g id="AtLBD38" transform="rotate(27.31)"><circle class="e" cx="-237.5" r="4.2"/><text x="-229" y="2.8">AtLBD38</text></g>
<g id="AtLBD37" transform="rotate(31.9)"><circle class="e" cx="-237.5" r="4.2"/><text x="-229" y="2.8">AtLBD37</text></g>
<g id="AtLBD39" transform="rotate(36.49)"><circle class="e" cx="-237.5" r="4.2"/><text x="-229" y="2.8">AtLBD39</text></g>
<g id="MrLBD28" transform="rotate(41.08)"><circle class="f" cx="-237.5" r="4.4"/><text x="-229" y="2.8">MrLBD28</text></g>
<g id="MrLBD26" transform="rotate(45.67)"><circle class="f" cx="-237.5" r="4.4"/><text x="-229" y="2.8">MrLBD26</text></g>
<g id="MrLBD29" transform="rotate(50.26)"><circle class="f" cx="-237.5" r="4.4"/><text x="-229" y="2.8">MrLBD29</text></g>
<g id="MrLBD30" transform="rotate(54.85)"><circle class="f" cx="-237.5" r="4.4"/><text x="-229" y="2.8">MrLBD30</text></g>
</g>
<g id="classes" class="cl">
<text x="297.5" y="20.7" textLength="49" lengthAdjust="spacingAndGlyphs">Class I a</text>
<text x="521.5" y="85" textLength="49" lengthAdjust="spacingAndGlyphs">Class I b</text>
<text x="590.5" y="367" textLength="49.5" lengthAdjust="spacingAndGlyphs">Class I c</text>
<text x="443" y="521.5" textLength="50.5" lengthAdjust="spacingAndGlyphs">Class I d</text>
<text x="112" y="450.5" textLength="53" lengthAdjust="spacingAndGlyphs">Class I e</text>
<text x="46.5" y="261.5" textLength="48.5" lengthAdjust="spacingAndGlyphs">Class I f</text>
<text x="51" y="206.5" textLength="54" lengthAdjust="spacingAndGlyphs">Class II a</text>
<text x="97" y="109" textLength="54.5" lengthAdjust="spacingAndGlyphs">Class II b</text>
</g>
</svg>
